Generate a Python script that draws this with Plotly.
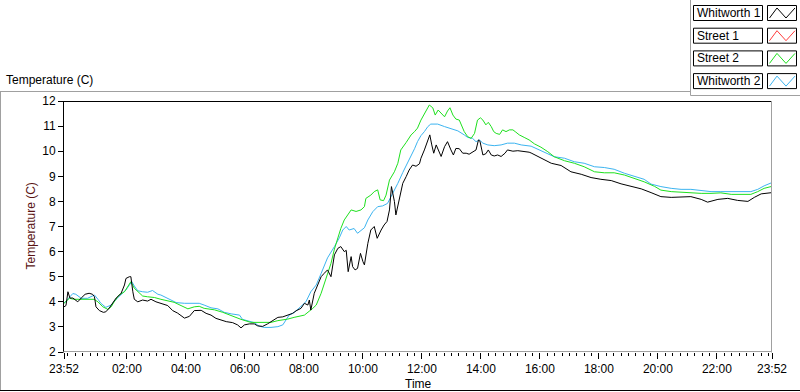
import plotly.graph_objects as go
import pandas as pd

# ---------------- data (minutes after 23:52, temperature in C) ----------------
w1_min = [0, 4, 8, 12, 18, 28, 35, 43, 51, 58, 62, 65, 72, 80, 85, 92, 106, 116, 123, 126,
          133, 136, 140, 143, 150, 160, 170, 177, 187, 197, 211, 221, 231, 245, 255, 265, 279,
          289, 299, 309, 319, 330, 343, 353, 360, 367, 377, 387, 394, 404, 414, 425, 435, 445,
          455, 465, 472, 482, 489, 496, 499, 502, 509, 516, 523, 529, 536, 543, 550, 557, 563,
          570, 574, 578, 584, 587, 592, 597, 603, 608, 611, 618, 624, 631, 637, 645, 651, 657,
          662, 666, 672, 675, 682, 689, 696, 702, 709, 716, 723, 726, 733, 740, 744, 748, 752,
          757, 761, 767, 774, 780, 787, 792, 797, 804, 811, 818, 824, 831, 838, 843, 846, 852,
          858, 863, 869, 875, 882, 889, 897, 902, 913, 923, 936, 946, 950, 970, 991, 1011, 1031,
          1052, 1072, 1092, 1113, 1133, 1153, 1174, 1194, 1214, 1235, 1255, 1275, 1296, 1309,
          1330, 1350, 1370, 1391, 1404, 1418, 1440]
w1_temp = [3.8, 3.85, 4.4, 4.15, 4.15, 4.0, 4.15, 4.3, 4.34, 4.3, 4.2, 3.8, 3.65, 3.58, 3.6, 3.75,
           4.15, 4.33, 4.67, 4.93, 5.0, 5.0, 4.4, 4.1, 4.0, 4.07, 4.03, 4.1, 4.0, 3.95, 3.85, 3.65,
           3.55, 3.35, 3.42, 3.65, 3.66, 3.54, 3.47, 3.34, 3.27, 3.21, 3.17, 3.08, 2.96, 3.08, 3.12,
           3.12, 3.04, 3.02, 3.12, 3.27, 3.38, 3.4, 3.47, 3.54, 3.64, 3.74, 3.94, 3.87, 4.07, 3.67,
           4.34, 4.67, 5.0, 5.13, 5.27, 5.0, 5.87, 6.13, 6.2, 6.0, 6.05, 5.2, 5.8, 5.4, 5.27, 5.33,
           5.93, 5.6, 5.47, 6.33, 6.86, 7.0, 6.53, 6.86, 7.06, 7.2, 7.66, 8.59, 8.0, 7.46, 8.06,
           8.72, 8.99, 9.25, 9.45, 9.4, 9.5, 9.72, 10.05, 10.45, 10.65, 10.25, 9.92, 10.25, 10.05,
           9.79, 10.18, 10.38, 10.05, 9.85, 10.11, 10.1, 9.92, 9.92, 9.88, 9.96, 10.05, 10.45,
           10.4, 9.85, 9.9, 10.05, 9.85, 9.81, 9.85, 9.79, 9.92, 10.05, 10.0, 10.02, 10.0, 9.96,
           9.93, 9.72, 9.52, 9.43, 9.18, 9.08, 8.95, 8.88, 8.83, 8.7, 8.61, 8.5, 8.35, 8.19, 8.16,
           8.19, 8.19, 8.08, 7.97, 8.08, 8.12, 8.04, 8.0, 8.16, 8.3, 8.35]

s2_min = [0, 11, 20, 61, 69, 79, 89, 96, 102, 112, 123, 130, 136, 143, 150, 160, 170, 184, 197,
          211, 224, 238, 252, 265, 275, 285, 306, 323, 343, 360, 380, 401, 421, 435, 455, 468,
          489, 506, 513, 523, 533, 543, 550, 557, 563, 570, 577, 584, 594, 604, 611, 614, 624,
          631, 638, 643, 650, 655, 662, 672, 679, 685, 696, 706, 713, 719, 726, 733, 740, 743,
          750, 755, 761, 768, 774, 780, 785, 791, 797, 804, 810, 814, 821, 828, 835, 841, 847,
          852, 858, 863, 869, 874, 879, 886, 892, 899, 906, 913, 919, 926, 936, 946, 957, 970,
          984, 997, 1018, 1038, 1058, 1079, 1099, 1119, 1140, 1160, 1180, 1201, 1214, 1235, 1255,
          1275, 1296, 1316, 1336, 1357, 1377, 1397, 1411, 1424, 1440]
s2_temp = [3.94, 4.14, 4.1, 4.1, 4.0, 3.8, 3.7, 3.8, 4.0, 4.27, 4.4, 4.6, 4.8, 4.54, 4.4, 4.23,
           4.2, 4.17, 4.1, 4.05, 3.98, 3.85, 3.72, 3.8, 3.82, 3.74, 3.68, 3.58, 3.42, 3.3, 3.18,
           3.18, 3.18, 3.25, 3.31, 3.38, 3.47, 3.74, 3.87, 4.34, 4.9, 5.53, 6.1, 6.59, 6.92, 7.26,
           7.46, 7.66, 7.6, 7.66, 7.79, 8.12, 8.25, 8.39, 8.46, 8.06, 8.03, 8.25, 8.85, 9.18, 9.52,
           10.05, 10.35, 10.65, 10.78, 10.92, 11.24, 11.51, 11.77, 11.84, 11.73, 11.44, 11.64,
           11.51, 11.37, 11.6, 11.73, 11.44, 11.28, 11.24, 10.98, 10.78, 10.58, 10.51, 10.71,
           11.24, 11.33, 11.24, 11.05, 11.15, 10.98, 10.78, 10.71, 10.67, 10.85, 10.78, 10.85,
           10.85, 10.76, 10.65, 10.55, 10.45, 10.29, 10.16, 9.98, 9.78, 9.62, 9.52, 9.38, 9.18,
           9.14, 9.14, 9.05, 8.92, 8.78, 8.6, 8.45, 8.39, 8.36, 8.36, 8.32, 8.32, 8.34, 8.28, 8.28,
           8.28, 8.39, 8.52, 8.6]

w2_min = [0, 11, 18, 24, 35, 48, 62, 69, 75, 85, 96, 106, 116, 126, 133, 138, 143, 150, 160,
          170, 180, 191, 197, 211, 228, 245, 258, 275, 285, 299, 313, 326, 340, 357, 363, 374,
          387, 397, 407, 421, 435, 445, 452, 458, 468, 482, 492, 502, 513, 523, 536, 550, 560,
          567, 574, 580, 590, 597, 604, 611, 618, 628, 638, 648, 658, 669, 679, 689, 699, 706,
          713, 719, 726, 733, 740, 746, 760, 774, 787, 801, 814, 821, 831, 838, 845, 852, 862,
          875, 889, 902, 916, 930, 950, 970, 984, 997, 1018, 1038, 1058, 1079, 1099, 1119, 1140,
          1160, 1180, 1194, 1214, 1235, 1255, 1275, 1296, 1316, 1336, 1357, 1377, 1397, 1411,
          1424, 1440]
w2_temp = [3.94, 4.2, 4.33, 4.3, 4.14, 4.14, 4.27, 4.1, 3.94, 3.78, 3.87, 4.1, 4.3, 4.47, 4.67,
           4.8, 4.63, 4.44, 4.4, 4.38, 4.45, 4.3, 4.27, 4.14, 3.97, 3.94, 3.93, 3.94, 3.87, 3.76,
           3.72, 3.58, 3.52, 3.47, 3.3, 3.24, 3.17, 3.03, 2.98, 2.98, 3.01, 3.08, 3.27, 3.47, 3.57,
           3.8, 4.0, 4.4, 4.67, 5.13, 5.75, 6.2, 6.55, 6.86, 7.0, 6.86, 6.92, 6.73, 6.86, 6.95,
           7.26, 7.59, 7.79, 7.82, 7.92, 8.32, 8.72, 9.15, 9.52, 9.78, 10.1, 10.38, 10.62, 10.78,
           10.98, 11.08, 11.08, 10.98, 10.91, 10.81, 10.65, 10.55, 10.51, 10.38, 10.45, 10.32,
           10.25, 10.22, 10.25, 10.32, 10.32, 10.25, 10.2, 10.02, 9.88, 9.78, 9.72, 9.58, 9.52,
           9.38, 9.35, 9.28, 9.12, 9.01, 8.88, 8.69, 8.59, 8.52, 8.48, 8.48, 8.42, 8.39, 8.39,
           8.39, 8.36, 8.39, 8.48, 8.62, 8.75]

legend_names = ["Whitworth 1", "Street 1", "Street 2", "Whitworth 2"]
legend_colors = ["#000000", "#ff3c3c", "#1ee01e", "#3cb4f0"]
x_tick_text = ["23:52", "02:00", "04:00", "06:00", "08:00", "10:00", "12:00", "14:00",
               "16:00", "18:00", "20:00", "22:00", "23:52"]

start = pd.Timestamp("2000-01-01 23:52")
end = start + pd.Timedelta(minutes=1440)


def to_time(mins):
    return [start + pd.Timedelta(minutes=m) for m in mins]


tick_vals = [start] + [pd.Timestamp("2000-01-02 %s" % t) for t in x_tick_text[1:-1]] + [end]

# ---------------- layout geometry ----------------
W, H = 800, 392
L, R, T, B = 64, 28, 101, 40
FONT = "Liberation Sans"


def xp(p):
    return (p - L) / (W - L - R)


def yp(p):
    return 1 - (p - T) / (H - T - B)


fig = go.Figure()
fig.add_trace(go.Scatter(x=to_time(w2_min), y=w2_temp, mode="lines",
                         line=dict(color=legend_colors[3], width=1), name=legend_names[3]))
fig.add_trace(go.Scatter(x=to_time(s2_min), y=s2_temp, mode="lines",
                         line=dict(color=legend_colors[2], width=1), name=legend_names[2]))
fig.add_trace(go.Scatter(x=to_time(w1_min), y=w1_temp, mode="lines",
                         line=dict(color=legend_colors[0], width=1), name=legend_names[0]))

shapes = []


def line(x0, y0, x1, y1, color, width=1):
    shapes.append(dict(type="line", xref="paper", yref="paper",
                       x0=xp(x0), y0=yp(y0), x1=xp(x1), y1=yp(y1),
                       line=dict(color=color, width=width), layer="above"))


# plot frame
line(L - 0.5, T + 0.5, 772, T + 0.5, "#000000")
line(L - 0.5, T, L - 0.5, 352.5, "#000000")
line(771.5, T, 771.5, 352.5, "#a0a0a0")
line(L - 0.5, 351.5, 772, 351.5, "#a0a0a0")
# outer panel
line(0, 91.5, 690, 91.5, "#a0a0a0")
line(0.5, 91.5, 0.5, 390, "#a0a0a0")
line(0, 390.5, 800, 390.5, "#000000")
line(690.5, 0, 690.5, 95.5, "#a0a0a0")
line(690.5, 95.5, 800, 95.5, "#a0a0a0")

annotations = []
for i, (name, col) in enumerate(zip(legend_names, legend_colors)):
    yt = 5.5 + i * 22.7
    shapes.append(dict(type="rect", xref="paper", yref="paper",
                       x0=xp(693.5), x1=xp(762.5), y0=yp(yt), y1=yp(yt + 15),
                       line=dict(color="#000000", width=1), fillcolor="white"))
    shapes.append(dict(type="rect", xref="paper", yref="paper",
                       x0=xp(767.5), x1=xp(796.5), y0=yp(yt), y1=yp(yt + 15),
                       line=dict(color="#000000", width=1), fillcolor="white"))
    path = "M %f,%f L %f,%f L %f,%f L %f,%f" % (
        xp(769.5), yp(yt + 12.5), xp(777), yp(yt + 2.5),
        xp(786), yp(yt + 12.5), xp(795), yp(yt + 2.5))
    shapes.append(dict(type="path", xref="paper", yref="paper", path=path,
                       line=dict(color=col, width=1)))
    annotations.append(dict(x=xp(695), y=yp(yt + 7.5), xref="paper", yref="paper",
                            text=name, showarrow=False, xanchor="left", yanchor="middle",
                            font=dict(family=FONT, size=12, color="#000000")))

annotations.append(dict(x=xp(4), y=yp(80), xref="paper", yref="paper", text="Temperature (C)",
                        showarrow=False, xanchor="left", yanchor="middle",
                        font=dict(family=FONT, size=12, color="#000000")))
annotations.append(dict(x=xp(30), y=yp(226.5), xref="paper", yref="paper",
                        text="Temperature (C)", textangle=-90, showarrow=False,
                        xanchor="center", yanchor="middle",
                        font=dict(family=FONT, size=12, color="#5a1414")))
annotations.append(dict(x=xp(418), y=yp(384), xref="paper", yref="paper", text="Time",
                        showarrow=False, xanchor="center", yanchor="middle",
                        font=dict(family=FONT, size=12, color="#000000")))

fig.update_layout(
    width=W, height=H,
    margin=dict(l=L, r=R, t=T, b=B, pad=0),
    paper_bgcolor="white", plot_bgcolor="white",
    showlegend=False,
    shapes=shapes, annotations=annotations,
    font=dict(family=FONT, size=12, color="#000000"),
    xaxis=dict(range=[start, end], tickmode="array", tickvals=tick_vals, ticktext=x_tick_text,
               ticks="outside", ticklen=6, tickcolor="#000000", tickwidth=1,
               showgrid=False, zeroline=False, showline=False,
               tickfont=dict(family=FONT, size=12, color="#000000"),
               minor=dict(ticks="outside", ticklen=3, tickcolor="#000000", tickwidth=1,
                          dtick=15 * 60 * 1000, tick0="2000-01-02 00:00", showgrid=False)),
    yaxis=dict(range=[2, 12], tickmode="linear", tick0=2, dtick=1,
               ticks="outside", ticklen=5, tickcolor="#000000", tickwidth=1,
               showgrid=False, zeroline=False, showline=False,
               tickfont=dict(family=FONT, size=12, color="#000000")),
)

fig.write_html("out.html", config={"displayModeBar": False},
               post_script="document.body.style.margin='0';document.body.style.padding='0';")
